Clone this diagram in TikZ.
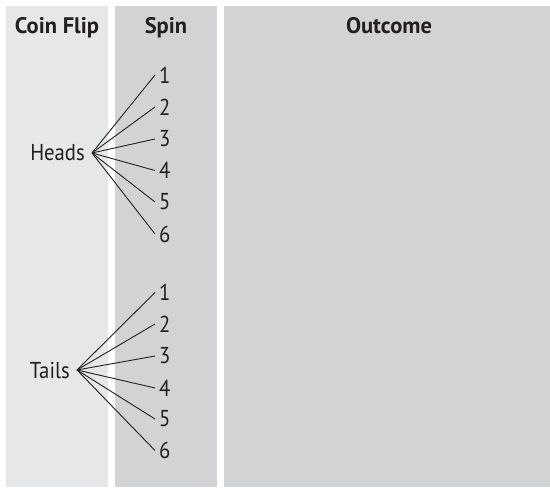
\documentclass[tikz,border=0pt]{standalone}
\usepackage{fontspec}
\setmainfont{PT Sans}
\newfontfamily\narrowfont[FakeStretch=0.9]{PT Sans}
\usepackage{xcolor}
\usetikzlibrary{positioning}
\definecolor{flipgray}{HTML}{E6E7E8}
\definecolor{spingray}{HTML}{D1D3D4}
\definecolor{inkblack}{HTML}{231F20}

\begin{document}
\begin{tikzpicture}[
   x=1pt,y=-1pt,
   col/.style={anchor=north west,inner sep=0pt,minimum height=481pt},
   head/.style={anchor=base,font=\fontsize{22.5}{26}\selectfont\bfseries,color=inkblack},
   coin/.style={anchor=east,inner xsep=7pt,font=\narrowfont\fontsize{23}{26}\selectfont,color=inkblack},
   num/.style={anchor=west,inner xsep=4pt,font=\narrowfont\fontsize{23}{26}\selectfont,color=inkblack},
   br/.style={line width=0.9pt,inkblack}]
  \useasboundingbox (0,0) rectangle (550,489);
  \node[col,fill=flipgray,minimum width=102pt] (flip) at (6,6) {};
  \node[col,fill=spingray,minimum width=102pt] (spin) at (115,6) {};
  \node[col,fill=spingray,minimum width=326pt] (outcome) at (224,6) {};
  \node[head] (fliphead) at (57,34) {Coin Flip};
  \node[head] (spinhead) at (166,34) {Spin};
  \node[head] (outhead) at (389,34) {Outcome};
  % heads branch
  \node[coin] (H) at (92,153) {Heads};
  \node[num] (H1) at (155,75) {1};
  \node[num] (H2) at (155,107) {2};
  \node[num] (H3) at (155,139) {3};
  \node[num] (H4) at (155,170.5) {4};
  \node[num] (H5) at (155,202) {5};
  \node[num] (H6) at (155,234) {6};
  \draw[br] (H.east)--(H1.west); \draw[br] (H.east)--(H2.west); \draw[br] (H.east)--(H3.west);
  \draw[br] (H.east)--(H4.west); \draw[br] (H.east)--(H5.west); \draw[br] (H.east)--(H6.west);
  % tails branch
  \node[coin] (T) at (77,370) {Tails};
  \node[num] (T1) at (155,292.5) {1};
  \node[num] (T2) at (155,324) {2};
  \node[num] (T3) at (155,356) {3};
  \node[num] (T4) at (155,388) {4};
  \node[num] (T5) at (155,419) {5};
  \node[num] (T6) at (155,450.5) {6};
  \draw[br] (T.east)--(T1.west); \draw[br] (T.east)--(T2.west); \draw[br] (T.east)--(T3.west);
  \draw[br] (T.east)--(T4.west); \draw[br] (T.east)--(T5.west); \draw[br] (T.east)--(T6.west);
\end{tikzpicture}
\end{document}
